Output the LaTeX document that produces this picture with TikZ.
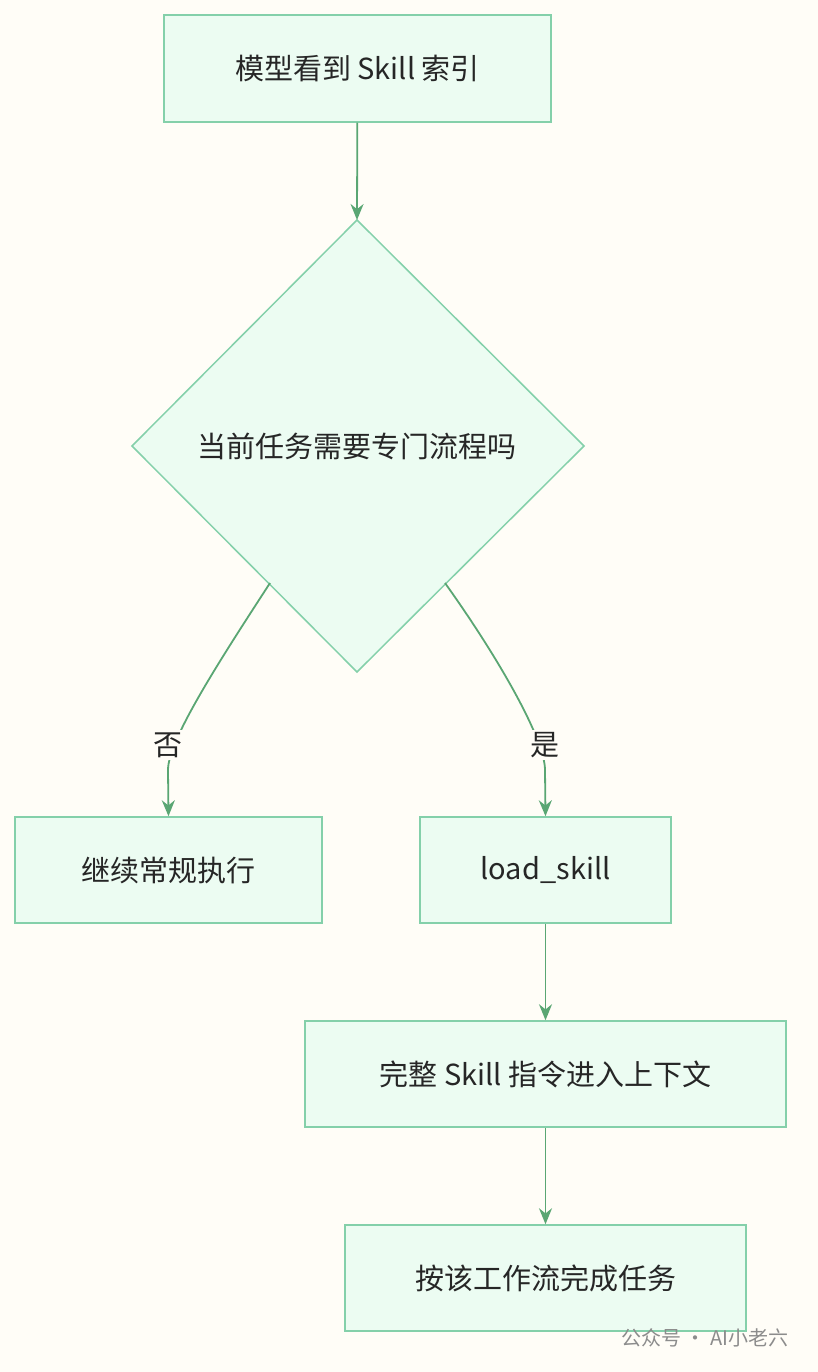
\documentclass[tikz,border=0pt]{standalone}
\usepackage{fontspec}
\setmainfont{Noto Sans CJK SC}
\usetikzlibrary{arrows.meta}
\definecolor{bg}{HTML}{FFFDF7}
\definecolor{nfill}{HTML}{ECFCF2}
\definecolor{nline}{HTML}{84D0AA}
\definecolor{eline}{HTML}{5AA673}
\begin{document}
\begin{tikzpicture}[x=1pt,y=-1pt,
  box/.style={draw=nline,fill=nfill,line width=1.5pt,inner sep=0pt,font=\fontsize{29}{32}\selectfont,text=black!85},
  edge/.style={draw=eline,line width=1.8pt,-{Stealth[length=16pt,width=13pt]}},
  lbl/.style={fill=bg,inner sep=2pt,font=\fontsize{29}{32}\selectfont,text=black!85}]
\fill[bg] (0,0) rectangle (818,1372);
\useasboundingbox (0,0) rectangle (818,1372);
\node[box,minimum width=387pt,minimum height=107pt] (a) at (357.5,68.5) {模型看到 Skill 索引};
\draw[draw=nline,fill=nfill,line width=1.5pt] (357,220) -- (584,446) -- (357,672) -- (132,446) -- cycle;
\node[font=\fontsize{29}{32}\selectfont,text=black!85] (d) at (357,446) {当前任务需要专门流程吗};
\coordinate (dl) at (270,583);
\coordinate (dr) at (445,583);
\node[box,minimum width=307pt,minimum height=106pt] (n) at (168.5,870) {继续常规执行};
\node[box,minimum width=251pt,minimum height=106pt] (y) at (545.5,870) {load\_skill};
\node[box,minimum width=481pt,minimum height=106pt] (c) at (545.5,1074) {完整 Skill 指令进入上下文};
\node[box,minimum width=401pt,minimum height=106pt] (f) at (545.5,1278) {按该工作流完成任务};
\coordinate (dt) at (357,220);
\draw[edge] (a) -- (dt);
\draw[edge] (dl) .. controls (220,660) and (168,740) .. (168,770) -- (n.north);
\draw[edge] (dr) .. controls (500,660) and (545,740) .. (545,770) -- (y.north);
\node[lbl] (l1) at (168,745) {否};
\node[lbl] (l2) at (545,745) {是};
\draw[edge] (y) -- (c);
\draw[edge] (c) -- (f);
\node[font=\fontsize{20}{22}\selectfont,text=black!45,anchor=east] (w) at (792,1338) {公众号 · AI小老六};
\end{tikzpicture}
\end{document}
